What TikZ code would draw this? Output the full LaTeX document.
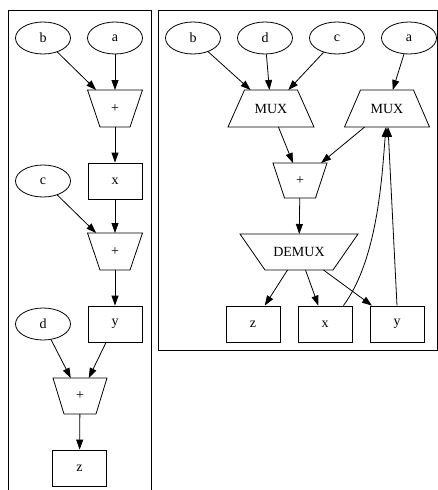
\documentclass[tikz,border=0pt]{standalone}
\usepackage{fontspec}
\setmainfont{Liberation Serif}
\usetikzlibrary{shapes.geometric,arrows.meta}

% outline of a trapezoid node: wide top (adder, demux) or wide bottom (mux)
\newcommand\invtrap[2]{\draw[shapeline] (#1.north west) -- (#1.north east) -- ([xshift=-#2pt]#1.south east) -- ([xshift=#2pt]#1.south west) -- cycle;}
\newcommand\muxtrap[2]{\draw[shapeline] ([xshift=#2pt]#1.north west) -- ([xshift=-#2pt]#1.north east) -- (#1.south east) -- (#1.south west) -- cycle;}

\tikzset{
  shapeline/.style={line width=0.8pt, black},
  base/.style={font=\fontsize{14}{16}\selectfont, inner sep=0pt, line width=0.8pt},
  var/.style={base, ellipse, draw, minimum width=55pt, minimum height=32pt},
  reg/.style={base, rectangle, draw, minimum width=54pt, minimum height=36pt},
  op/.style={base, rectangle, draw=none, outer sep=0pt},
  flow/.style={line width=0.8pt, -{Triangle[length=10pt,width=7pt]}},
  cluster/.style={line width=0.8pt},
}

\begin{document}
\begin{tikzpicture}[x=1pt,y=-1pt]
\useasboundingbox (0,0) rectangle (438,490);
\clip (0,0) rectangle (438,490);

% clusters
\draw[cluster] (8,10) rectangle (151,500);
\draw[cluster] (158,10) rectangle (437,350);

% ---- sequential datapath ----
\node[var] (lb) at (43,38) {b};
\node[var] (la) at (115,38) {a};
\node[op, minimum width=55pt, minimum height=37pt] (lp1) at (115,108.5) {+};
\node[reg] (lx) at (115,181) {x};
\node[var] (lc) at (43,181) {c};
\node[op, minimum width=55pt, minimum height=37pt] (lp2) at (115,251.5) {+};
\node[reg] (ly) at (115,324) {y};
\node[var] (ld) at (43,324) {d};
\node[op, minimum width=54pt, minimum height=36pt] (lp3) at (80,396) {+};
\node[reg] (lz) at (79.5,468) {z};

\invtrap{lp1}{12.5}
\invtrap{lp2}{12.5}
\invtrap{lp3}{11}

\draw[flow] (lb) -- (lp1);
\draw[flow] (la) -- (lp1);
\draw[flow] (lp1) -- (lx);
\draw[flow] (lc) -- (lp2);
\draw[flow] (lx) -- (lp2);
\draw[flow] (lp2) -- (ly);
\draw[flow] (ld) -- (lp3);
\draw[flow] (ly) -- (lp3);
\draw[flow] (lp3) -- (lz);

% ---- shared-adder datapath ----
\node[var] (rb) at (193,38) {b};
\node[var] (rd) at (265,38) {d};
\node[var] (rc) at (337,38) {c};
\node[var] (ra) at (409,38) {a};
\node[op, minimum width=86pt, minimum height=37pt] (m1) at (271,108.5) {MUX};
\node[op, minimum width=85pt, minimum height=37pt] (m2) at (387,108.5) {MUX};
\node[op, minimum width=54pt, minimum height=35pt] (rp) at (300,180.5) {+};
\node[op, minimum width=118pt, minimum height=36pt] (dm) at (299,252) {DEMUX};
\node[reg] (rz) at (253,324) {z};
\node[reg] (rx) at (325,324) {x};
\node[reg] (ry) at (397,324) {y};

\muxtrap{m1}{16.5}
\muxtrap{m2}{16}
\invtrap{rp}{11.5}
\invtrap{dm}{25}

\draw[flow] (rb) -- (m1);
\draw[flow] (rd) -- (m1);
\draw[flow] (rc) -- (m1);
\draw[flow] (ra) -- (m2);
\draw[flow] (m1) -- (rp);
\draw[flow] (m2) -- (rp);
\draw[flow] (rp) -- (dm);
\draw[flow] (dm) -- (rz);
\draw[flow] (dm) -- (rx);
\draw[flow] (dm) -- (ry);
\draw[flow] ([xshift=-9pt]rx.north east) .. controls (378,259) and (382,175) .. ([xshift=-1pt]m2.south);
\draw[flow] (ry.north) -- ([xshift=1pt]m2.south);
\end{tikzpicture}
\end{document}
